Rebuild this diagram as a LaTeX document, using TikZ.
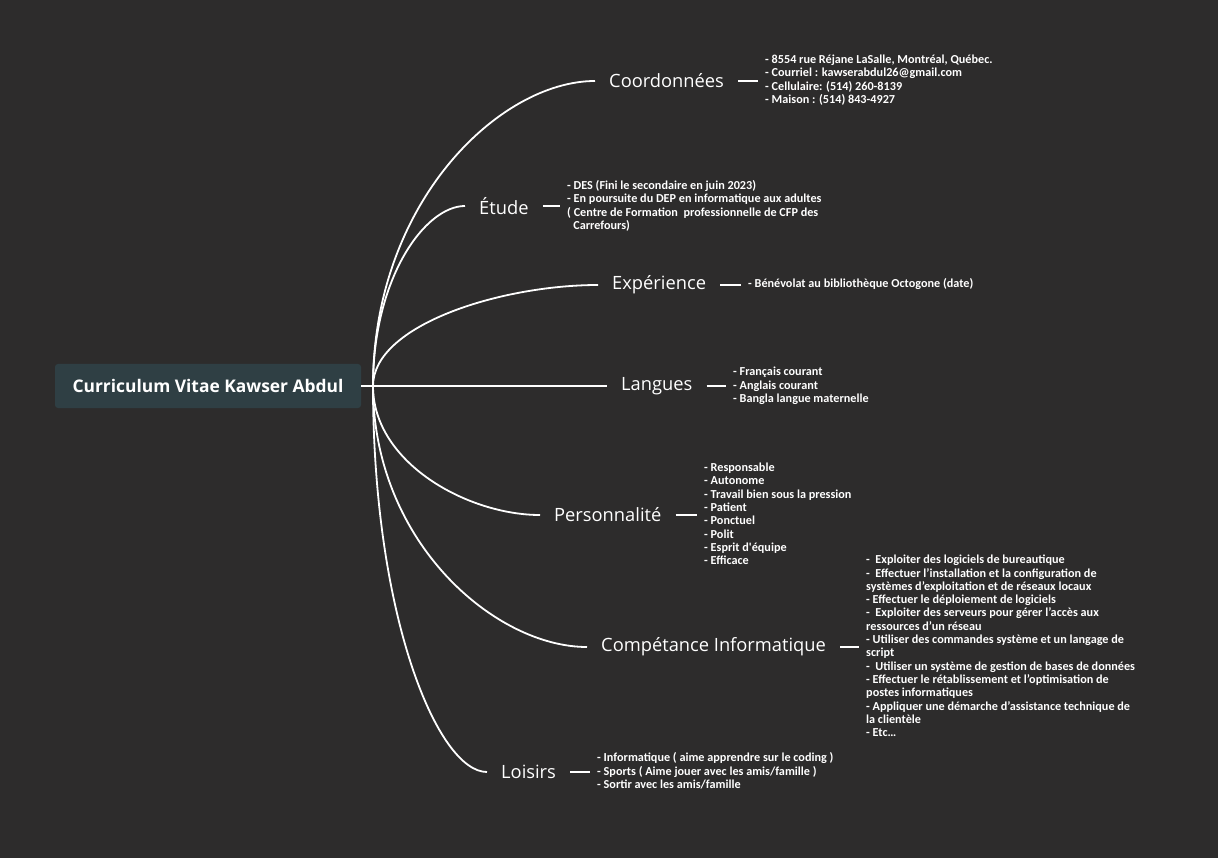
\documentclass[tikz,border=0pt]{standalone}
\usepackage{fontspec}
\setmainfont{Open Sans}
\newfontfamily\topicfont{Open Sans}
\newfontfamily\detfont{Carlito}
\definecolor{bgcol}{RGB}{45,44,44}
\definecolor{rootcol}{RGB}{47,63,68}
\begin{document}
\begin{tikzpicture}[x=1pt,y=-1pt,
  rootbox/.style={fill=rootcol,rounded corners=3pt,minimum width=306pt,minimum height=44pt,
    text=white,font=\topicfont\bfseries\fontsize{17.4}{20}\selectfont,inner sep=0pt},
  topic/.style={anchor=west,text=white,font=\topicfont\fontsize{18.3}{22}\selectfont,inner xsep=14pt,inner ysep=2pt},
  detail/.style={anchor=west,text=white,align=left,font=\detfont\bfseries\fontsize{12.2}{13.3}\selectfont,inner xsep=7pt,inner ysep=0pt},
  link/.style={draw=white,line width=1.8pt},
  tick/.style={draw=white,line width=1.2pt}]
\fill[bgcol] (0,0) rectangle (1218,858);
\useasboundingbox (0,0) rectangle (1218,858);

\node[rootbox] (root) at (208,386) {Curriculum Vitae Kawser Abdul};
\coordinate (hub) at (373,386);

\node[topic] (coord) at (595,81) {Coordonnées};
\node[topic] (etude) at (465,206) {Étude};
\node[topic] (exp) at (598,285) {Expérience};
\node[topic] (lang) at (607,386) {Langues};
\node[topic] (perso) at (540,515) {Personnalité};
\node[topic] (comp) at (587,647) {Compétance Informatique};
\node[topic] (lois) at (487,772) {Loisirs};

\node[detail] (dcoord) at (758,80) {- 8554 rue Réjane LaSalle, Montréal, Québec.\\- Courriel : kawserabdul26@gmail.com\\- Cellulaire: (514) 260-8139\\- Maison : (514) 843-4927};
\node[detail] (detude) at (560,206) {- DES (Fini le secondaire en juin 2023)\\- En poursuite du DEP en informatique aux adultes\\( Centre de Formation\ \ professionnelle de CFP des\\\hspace*{0.5em}Carrefours)};
\node[detail] (dexp) at (741,284) {- Bénévolat au bibliothèque Octogone (date)};
\node[detail] (dlang) at (726,386) {- Français courant\\- Anglais courant\\- Bangla langue maternelle};
\node[detail] (dperso) at (697,514) {- Responsable\\- Autonome\\- Travail bien sous la pression\\- Patient\\- Ponctuel\\- Polit\\- Esprit d'équipe\\- Efficace};
\node[detail] (dcomp) at (859,646) {-\ \ Exploiter des logiciels de bureautique\\-\ \ Effectuer l’installation et la configuration de\\systèmes d’exploitation et de réseaux locaux\\- Effectuer le déploiement de logiciels\\-\ \ Exploiter des serveurs pour gérer l’accès aux\\ressources d’un réseau\\- Utiliser des commandes système et un langage de\\script\\-\ \ Utiliser un système de gestion de bases de données\\- Effectuer le rétablissement et l’optimisation de\\postes informatiques\\- Appliquer une démarche d’assistance technique de\\la clientèle\\- Etc…};
\node[detail] (dlois) at (590,771) {- Informatique ( aime apprendre sur le coding )\\- Sports ( Aime jouer avec les amis/famille )\\- Sortir avec les amis/famille};

% main connectors
\draw[link] (root.east) -- (hub) -- (lang.west);
\draw[link] (hub) .. controls +(0,-184) and +(-95,0) .. (coord.west);
\draw[link] (hub) .. controls +(0,-108) and +(-40,0) .. (etude.west);
\draw[link] (hub) .. controls +(0,-61) and +(-97,0) .. (exp.west);
\draw[link] (hub) .. controls +(0,77) and +(-72,0) .. (perso.west);
\draw[link] (hub) .. controls +(0,156) and +(-92,0) .. (comp.west);
\draw[link] (hub) .. controls +(0,231) and +(-49,0) .. (lois.west);

% short ticks
\draw[tick] (coord.east) -- (coord.east -| dcoord.west);
\draw[tick] (etude.east) -- (etude.east -| detude.west);
\draw[tick] (exp.east) -- (exp.east -| dexp.west);
\draw[tick] (lang.east) -- (lang.east -| dlang.west);
\draw[tick] (perso.east) -- (perso.east -| dperso.west);
\draw[tick] (comp.east) -- (comp.east -| dcomp.west);
\draw[tick] (lois.east) -- (lois.east -| dlois.west);
\end{tikzpicture}
\end{document}
